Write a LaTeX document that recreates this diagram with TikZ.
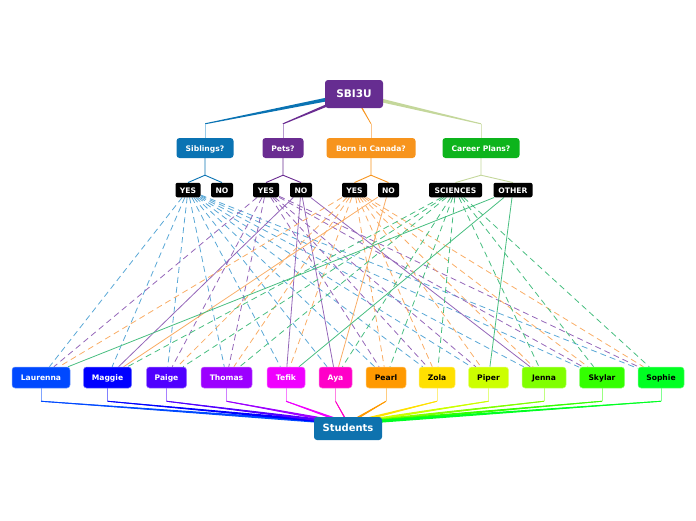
\documentclass[tikz,border=0pt]{standalone}
\usepackage{fontspec}
\setmainfont{DejaVu Sans}
\usetikzlibrary{calc}
\pgfdeclarelayer{bg}
\pgfsetlayers{bg,main}
\definecolor{rootc}{HTML}{662D91}
\definecolor{sibc}{HTML}{0A73B3}
\definecolor{sibl}{HTML}{9ACBE8}
\definecolor{petc}{HTML}{6A2C91}
\definecolor{petl}{HTML}{B79AD0}
\definecolor{bornc}{HTML}{F7941D}
\definecolor{bornl}{HTML}{FBC48A}
\definecolor{carc}{HTML}{0DB41C}
\definecolor{carline}{HTML}{C4D79B}
\definecolor{carl}{HTML}{D8E5BC}
\definecolor{studc}{HTML}{0E72AE}
\definecolor{xsib}{HTML}{5AA8D6}
\definecolor{xpet}{HTML}{9466B8}
\definecolor{xborn}{HTML}{F9AD66}
\definecolor{xcar}{HTML}{48BE80}
\definecolor{cLau}{HTML}{0049FF}
\definecolor{cMag}{HTML}{0000FF}
\definecolor{cPai}{HTML}{5000FF}
\definecolor{cTho}{HTML}{9C00FF}
\definecolor{cTef}{HTML}{F000FF}
\definecolor{cAya}{HTML}{FF00C8}
\definecolor{cPea}{HTML}{FF9900}
\definecolor{cZol}{HTML}{FFE000}
\definecolor{cPip}{HTML}{CCFF00}
\definecolor{cJen}{HTML}{80FF00}
\definecolor{cSky}{HTML}{33FF00}
\definecolor{cSop}{HTML}{00FF22}
\tikzset{
  box/.style={rounded corners=3pt, inner sep=0pt, text=white,
    text height=1.45ex, text depth=0.35ex,
    font=\fontsize{7.6}{9}\selectfont\bfseries},
  rootbox/.style={box, fill=rootc, minimum width=58pt, minimum height=28pt,
    font=\fontsize{10.5}{12}\selectfont\bfseries},
  catbox/.style={box, minimum height=20pt},
  ynbox/.style={box, fill=black, minimum height=14.5pt, rounded corners=2pt},
  stubox/.style={box, minimum height=21pt},
  sumbox/.style={box, fill=studc, minimum width=68pt, minimum height=23pt,
    font=\fontsize{10}{12}\selectfont\bfseries},
  xdash/.style={line width=0.8pt, dash pattern=on 6pt off 4pt},
  xsolid/.style={line width=0.8pt},
  stem/.style={line width=0.9pt},
  riser/.style={line width=0.8pt}
}
\begin{document}
\begin{tikzpicture}[x=1pt,y=-1pt]
\useasboundingbox (0,0) rectangle (696,520);
% ---- nodes
\node[rootbox] (top) at (354,94) {SBI3U};
\node[catbox, fill=sibc, minimum width=57pt] (sib) at (205,148) {Siblings?};
\node[catbox, fill=petc, minimum width=41pt] (pet) at (283,148) {Pets?};
\node[catbox, fill=bornc, minimum width=89pt] (born) at (371,148) {Born in Canada?};
\node[catbox, fill=carc, minimum width=77pt] (car) at (481,148) {Career Plans?};
\node[ynbox, minimum width=25pt] (sy) at (188,190) {YES};
\node[ynbox, minimum width=22pt] (sn) at (222,190) {NO};
\node[ynbox, minimum width=26pt] (py) at (266,190) {YES};
\node[ynbox, minimum width=22pt] (pn) at (301,190) {NO};
\node[ynbox, minimum width=25pt] (by) at (354.5,190) {YES};
\node[ynbox, minimum width=21pt] (bn) at (388.5,190) {NO};
\node[ynbox, minimum width=53pt] (sc) at (455.5,190) {SCIENCES};
\node[ynbox, minimum width=39pt] (ot) at (513,190) {OTHER};
\foreach \n/\x/\w/\c/\t in {Laurenna/41/58/cLau/white, Maggie/107.5/48/cMag/white,
   Paige/166.5/40/cPai/white, Thomas/226.5/51/cTho/white, Tefik/286/38/cTef/white,
   Aya/335.5/33/cAya/white, Pearl/386/40/cPea/black, Zola/437/36/cZol/black,
   Piper/488.5/40/cPip/black, Jenna/544/44/cJen/black, Skylar/602/45/cSky/black,
   Sophie/661/46/cSop/black}
  \node[stubox, fill=\c, draw=\c!55!white, line width=0.5pt, minimum width=\w pt, text=\t] (\n) at (\x,377.5) {\n};
\node[sumbox] (Students) at (348,428.5) {Students};
% ---- connectors
\begin{pgfonlayer}{bg}
  % root to categories
  \coordinate (sibbend) at ($(sib.north)+(0,-14)$);
  \coordinate (petbend) at ($(pet.north)+(0,-14)$);
  \coordinate (bornbend) at ($(born.north)+(0,-14)$);
  \coordinate (carbend) at ($(car.north)+(0,-14)$);
  \fill[sibc] ($(top.center)+(0,-2.2)$) -- ($(top.center)+(0,2.2)$) -- ($(sibbend)+(0,0.5)$) -- ($(sibbend)+(0,-0.5)$) -- cycle;
  \fill[petc] ($(top.center)+(-1.3,-1.3)$) -- ($(top.center)+(1.3,1.3)$) -- ($(petbend)+(0.4,0.4)$) -- ($(petbend)+(-0.4,-0.4)$) -- cycle;
  \fill[bornc] ($(top.center)+(-1,0)$) -- ($(top.center)+(1,0)$) -- ($(bornbend)+(0.4,0)$) -- ($(bornbend)+(-0.4,0)$) -- cycle;
  \fill[carline] ($(top.center)+(0,-2.2)$) -- ($(top.center)+(0,2.2)$) -- ($(carbend)+(0,0.5)$) -- ($(carbend)+(0,-0.5)$) -- cycle;
  \draw[riser, sibl] (sibbend) -- (sib.north);
  \draw[riser, petl] (petbend) -- (pet.north);
  \draw[riser, bornl] (bornbend) -- (born.north);
  \draw[riser, carl] (carbend) -- (car.north);
  % categories to answers
  \coordinate (sibfork) at ($(sib.south)+(0,17)$);
  \coordinate (petfork) at ($(pet.south)+(0,17)$);
  \coordinate (bornfork) at ($(born.south)+(0,17)$);
  \coordinate (carfork) at ($(car.south)+(0,17)$);
  \draw[stem, sibc] (sib.south) -- (sibfork) -- (sy.north); \draw[stem, sibc] (sibfork) -- (sn.north);
  \draw[stem, petc] (pet.south) -- (petfork) -- (py.north); \draw[stem, petc] (petfork) -- (pn.north);
  \draw[stem, bornc] (born.south) -- (bornfork) -- (by.north); \draw[stem, bornc] (bornfork) -- (bn.north);
  \draw[stem, carline] (car.south) -- (carfork) -- (sc.north); \draw[stem, carline] (carfork) -- (ot.north);
  % answers to students
  \foreach \s in {Laurenna,Maggie,Paige,Thomas,Tefik,Aya,Pearl,Zola,Piper,Jenna,Skylar,Sophie}
    \draw[xdash, xsib] (sy) -- (\s);
  \foreach \s in {Laurenna,Paige,Thomas,Pearl,Zola,Piper,Skylar,Sophie}
    \draw[xdash, xpet] (py) -- (\s);
  \foreach \s in {Maggie,Tefik,Aya,Jenna}
    \draw[xsolid, xpet] (pn) -- (\s);
  \foreach \s in {Laurenna,Paige,Thomas,Tefik,Pearl,Zola,Piper,Jenna,Skylar,Sophie}
    \draw[xdash, xborn] (by) -- (\s);
  \foreach \s in {Maggie,Aya}
    \draw[xsolid, xborn] (bn) -- (\s);
  \foreach \s in {Maggie,Paige,Thomas,Aya,Pearl,Zola,Jenna,Skylar,Sophie}
    \draw[xdash, xcar] (sc) -- (\s);
  \foreach \s in {Laurenna,Tefik,Piper}
    \draw[xsolid, xcar] (ot) -- (\s);
  % students to summary
  \coordinate (hub) at ($(Students.center)+(0,-5)$);
  \foreach \s/\c in {Laurenna/cLau,Maggie/cMag,Paige/cPai,Thomas/cTho,Tefik/cTef,Aya/cAya,
                     Pearl/cPea,Zola/cZol,Piper/cPip,Jenna/cJen,Skylar/cSky,Sophie/cSop}{
    \coordinate (b\s) at ($(\s.south)+(0,13)$);
    \draw[riser, \c!50!white] (\s.south) -- (b\s);
    \draw[line width=0.9pt, \c] (b\s) -- (hub);
    \fill[\c] ($(b\s)+(0,-0.4)$) -- ($(b\s)+(0,0.4)$) -- ($(hub)+(0,1.6)$) -- ($(hub)+(0,-1.6)$) -- cycle;
  }
\end{pgfonlayer}
\end{tikzpicture}
\end{document}
